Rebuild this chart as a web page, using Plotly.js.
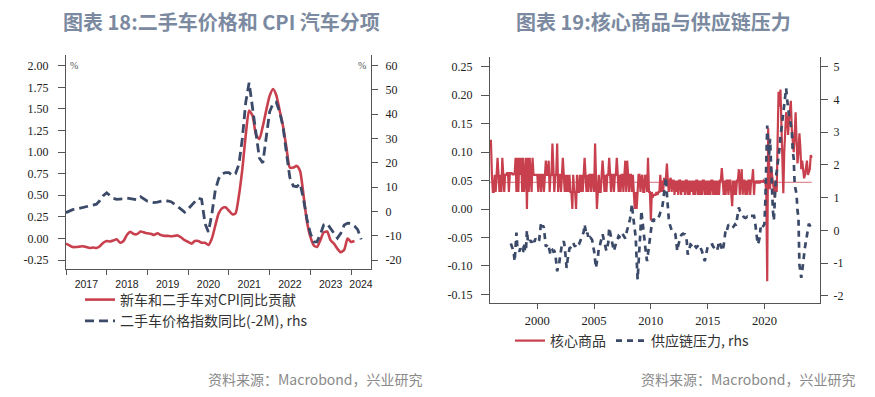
<!DOCTYPE html>
<html>
<head>
<meta charset="utf-8">
<script src="https://cdn.plot.ly/plotly-3.0.1.min.js"></script>
<style>html,body{margin:0;padding:0;background:#fff;}#chart{width:875px;height:397px;}</style>
</head>
<body>
<div id="chart"></div>
<script>
// ---------- Chart 18 data (monthly, from Jan 2017) ----------
const carStart = [2017, 1];
const carCpiContribution = [
 -0.06,-0.08,-0.10,-0.10,-0.095,-0.09,-0.10,-0.11,-0.105,-0.11,-0.09,-0.05,
 -0.03,-0.035,-0.025,-0.01,-0.05,-0.03,0.04,0.077,0.05,0.05,0.08,0.07,
 0.06,0.055,0.04,0.06,0.04,0.03,0.03,0.025,0.03,0.035,0.01,-0.02,
 -0.04,-0.06,-0.03,-0.03,-0.05,-0.05,-0.075,0.0,0.15,0.29,0.35,0.36,
 0.32,0.28,0.29,0.50,0.80,1.20,1.48,1.42,1.20,1.15,1.30,1.48,
 1.65,1.73,1.66,1.48,1.30,1.05,0.82,0.82,0.84,0.78,0.50,0.20,
 0.02,-0.08,-0.10,-0.02,0.07,0.08,-0.02,-0.06,-0.12,-0.16,-0.13,0.00,
 -0.04,-0.03
];
const usedCarYoY = [
 -0.5,0.3,0.7,0.9,1.2,1.5,1.8,2.2,2.5,3.0,4.5,6.5,
 7.7,6.5,5.4,5.0,5.0,5.2,5.5,5.3,4.8,4.8,6.0,5.0,
 4.2,4.0,3.6,3.8,4.2,4.5,4.3,4.0,3.0,2.0,0.8,-0.3,
 1.0,2.6,4.0,5.5,5.0,-5.0,-8.5,-1.0,8.8,13.5,15.5,16.0,
 16.0,14.8,15.5,19.5,30,45,53,42,32,22,20,30,
 41,44.5,45,41,35,24,14,10.5,10.2,11.5,5,-3,
 -9,-12.5,-12.5,-9.5,-5.5,-5.0,-7,-9,-11,-9,-5.6,-4.8,
 -5,-6,-7.5,-11.5
];
const chart18Years = [2017,2018,2019,2020,2021,2022,2023,2024];
const chart18LeftTicks = [-0.25,0,0.25,0.5,0.75,1,1.25,1.5,1.75,2];
const chart18LeftTickText = ['-0.25','0.00','0.25','0.50','0.75','1.00','1.25','1.50','1.75','2.00'];
const chart18RightTicks = [-20,-10,0,10,20,30,40,50,60];
const chart18RightTickText = ['-20','-10','0','10','20','30','40','50','60'];

// ---------- Chart 19 data ----------
const coreStart = [1995, 11];
const coreGoods = [
 0.12,0.12,
 0.06,0.03,0.03,0.06,0.03,0.06,0.09,0.06,0.03,0.06,0.03,0.09,
 0.06,0.03,0.06,0.06,0.063,0.063,0.03,0.063,0.063,0.063,0.06,0.063,
 0.06,0.09,0.03,0.09,0.03,0.09,0.06,0.09,0.03,0.09,0.03,0.06,
 0.09,0.0,0.09,0.03,0.09,0.06,0.03,0.09,0.06,0.06,0.06,0.06,
 0.06,0.03,0.06,0.06,0.03,0.06,0.06,0.03,0.06,0.085,0.06,0.06,
 0.085,0.03,0.06,0.06,0.115,0.06,0.03,0.06,0.06,0.115,0.03,0.06,
 0.06,0.03,0.06,0.09,0.06,0.03,0.06,0.03,0.06,0.03,0.06,0.03,
 0.03,0.0,0.06,0.03,0.03,0.0,0.06,0.03,0.03,0.06,0.03,0.06,
 0.03,0.06,0.09,0.06,0.03,0.06,0.03,0.06,0.06,0.03,0.06,0.06,
 0.03,0.115,0.06,0.0,0.03,0.06,0.03,0.03,0.06,0.085,0.06,0.03,
 0.06,0.03,0.06,0.06,0.09,0.06,0.03,0.06,0.06,0.03,0.06,0.06,
 0.09,0.06,0.03,0.06,0.03,0.06,0.06,0.03,0.06,0.085,0.03,0.085,
 0.06,0.03,0.06,0.06,0.03,0.06,0.03,0.0,0.03,0.0,0.03,0.06,
 0.06,0.03,0.055,0.06,0.03,0.03,0.06,0.055,0.03,0.09,0.03,0.03,
 -0.02,0.03,0.02,0.025,0.025,0.025,0.03,0.025,0.03,0.03,0.06,0.03,
 0.05,0.03,0.055,0.05,0.055,0.08,0.05,0.03,0.05,0.055,0.03,0.05,
 0.05,0.025,0.05,0.03,0.05,0.025,0.05,0.05,0.025,0.05,0.03,0.05,
 0.025,0.05,0.05,0.025,0.05,0.025,0.05,0.03,0.05,0.025,0.05,0.025,
 0.05,0.05,0.025,0.05,0.025,0.05,0.025,0.05,0.05,0.025,0.05,0.025,
 0.05,0.025,0.05,0.025,0.05,0.05,0.025,0.05,0.025,0.05,0.025,0.05,
 0.025,0.05,0.05,0.072,0.05,0.025,0.05,0.025,0.05,0.05,0.025,0.05,
 0.05,0.025,0.005,0.05,0.025,0.05,0.025,0.05,0.05,0.07,0.025,0.05,
 0.07,0.025,0.05,0.05,0.025,0.05,0.025,0.05,0.05,0.025,0.05,0.05,
 0.07,0.025,0.05,0.045,0.05,0.045,0.05,0.045,0.05,0.048,0.048,0.05,
 0.048,0.05,0.03,-0.127,0.142,0.08,0.035,0.075,0.06,0.048,0.03,0.02,
 0.05,0.03,0.12,0.206,0.18,0.21,0.15,0.10,0.028,0.10,0.15,0.17,
 0.16,0.13,0.156,0.17,0.19,0.14,0.12,0.10,0.13,0.17,0.12,0.08,
 0.10,0.133,0.11,0.07,0.085,0.07,0.054,0.06,0.07,0.085,0.06,0.068,
 0.07,0.095,0.09
];
const coreGoodsAverage = 0.047;
const gscpiStart = [1997, 9];
const supplyChainPressure = [
 -0.4,-0.5,-0.6,-0.65,
 -0.95,-0.5,-0.07,-0.55,-0.6,-0.65,-0.55,-0.6,-0.7,-0.65,-0.38,-0.65,
 -0.6,0.0,-0.3,-0.25,-0.35,-0.3,-0.38,-0.25,-0.3,-0.35,-0.25,-0.3,
 -0.3,-0.35,-0.3,-0.1,0.24,0.1,0.15,0.08,-0.2,-0.5,-0.45,-0.55,
 -0.5,-0.6,-0.74,-0.63,-0.6,-0.65,-0.63,-0.7,-0.9,-1.25,-1.1,-1.05,
 -0.8,-0.6,-0.45,-0.38,-0.33,-0.5,-0.8,-1.15,-0.9,-0.63,-0.55,-0.53,
 -0.5,-0.4,-0.38,-0.45,-0.5,-0.4,-0.42,-0.45,-0.43,-0.35,-0.25,-0.2,
 -0.12,-0.05,0.18,0.0,-0.15,-0.07,-0.25,-0.28,-0.22,-0.25,-0.3,-0.5,
 -0.63,-0.9,-1.15,-0.95,-0.84,-0.53,-0.5,-0.35,-0.2,-0.12,-0.25,-0.38,
 -0.5,-0.63,-0.5,-0.38,0.08,-0.1,-0.28,-0.4,-0.5,-0.63,-0.5,-0.38,
 -0.3,-0.25,-0.17,-0.2,-0.15,-0.07,-0.1,-0.15,-0.22,-0.25,-0.1,0.0,
 0.08,0.2,0.34,0.55,0.8,0.5,0.28,0.0,-0.22,-0.9,-1.5,-1.0,
 -0.63,0.0,0.6,0.29,0.0,-0.3,-0.58,-0.75,-0.94,-0.7,-0.53,-0.2,
 0.0,0.2,0.29,0.35,0.3,0.29,0.3,0.35,0.39,0.45,0.55,0.65,
 0.7,0.9,1.2,1.45,1.62,1.1,0.6,0.35,0.18,0.05,0.0,-0.07,
 -0.1,-0.1,-0.12,-0.4,-0.63,-0.45,-0.33,-0.25,-0.15,-0.12,-0.1,-0.12,
 -0.12,-0.2,-0.33,-0.74,-0.6,-0.5,-0.43,-0.45,-0.4,-0.38,-0.45,-0.5,
 -0.53,-0.5,-0.45,-0.43,-0.5,-0.55,-0.63,-0.75,-0.84,-0.94,-0.8,-0.6,
 -0.5,-0.45,-0.43,-0.45,-0.43,-0.43,-0.5,-0.53,-0.55,-0.6,-0.63,-0.5,
 -0.33,-0.4,-0.5,-0.6,-0.63,-0.45,-0.2,0.0,-0.05,0.1,0.18,0.15,
 0.12,0.1,0.08,0.1,0.15,0.18,0.15,0.3,0.5,0.7,0.6,0.55,
 0.49,0.45,0.42,0.39,0.38,0.4,0.42,0.4,0.38,0.44,0.45,0.44,
 0.44,0.44,0.3,0.0,-0.3,-0.43,-0.35,-0.22,0.08,0.0,0.1,0.15,
 0.18,0.9,1.9,3.2,2.6,2.3,2.8,2.0,1.1,0.6,0.3,1.0,
 1.6,1.8,2.0,2.3,2.5,2.85,3.1,3.4,3.6,3.8,4.1,4.34,
 4.0,3.6,3.55,3.4,3.2,3.05,2.4,2.2,1.4,1.2,1.1,0.6,
 0.4,-1.05,-1.2,-1.45,-1.24,-0.95,-0.83,-0.5,-0.33,-0.1,0.08,0.2,
 0.15,0.1
];
const chart19LeftTicks = [-0.15,-0.1,-0.05,0,0.05,0.1,0.15,0.2,0.25];
const chart19LeftTickText = ['-0.15','-0.10','-0.05','0.00','0.05','0.10','0.15','0.20','0.25'];
const chart19RightTicks = [-2,-1,0,1,2,3,4,5];
const chart19RightTickText = ['-2','-1','0','1','2','3','4','5'];

// ---------- helpers ----------
function pad(n){return (n<10?'0':'')+n;}
function monthDates(start, n){
  const out=[]; let y=start[0], m=start[1];
  for(let i=0;i<n;i++){ out.push(y+'-'+pad(m)+'-01'); m++; if(m>12){m=1;y++;} }
  return out;
}
const W=875, H=397;
const px = v => v/W, py = v => 1 - v/H;

const range18 = ['2017-01-01','2024-06-28'];
const r0 = new Date(range18[0]).getTime(), r1 = new Date(range18[1]).getTime();
const chart18TickVals = chart18Years.map(y => {
  const a = Math.max(new Date(y+'-01-01').getTime(), r0);
  const b = Math.min(new Date((y+1)+'-01-01').getTime(), r1);
  return new Date((a+b)/2).toISOString().slice(0,10);
});
const chart18TickText = chart18Years.map(String);

const carRedDates = monthDates(carStart, carCpiContribution.length);
const carDashDates = monthDates(carStart, usedCarYoY.length);
const coreDates = monthDates(coreStart, coreGoods.length);
const gscpiDates = monthDates(gscpiStart, supplyChainPressure.length);

const RED = '#c8404e', NAVY = '#3b4a68', AX = '#555';
const tickFontSerif = {family:'Liberation Serif', size:12, color:'#222'};

const traces = [
  {x:carRedDates, y:carCpiContribution, type:'scatter', mode:'lines', name:'新车和二手车对CPI同比贡献',
   line:{color:RED, width:2.6, shape:'spline', smoothing:0.6}, xaxis:'x', yaxis:'y', legend:'legend'},
  {x:carDashDates, y:usedCarYoY, type:'scatter', mode:'lines', name:'二手车价格指数同比(-2M), rhs',
   line:{color:NAVY, width:2.8, dash:'9px,5px'}, xaxis:'x', yaxis:'y2', legend:'legend'},
  {x:[coreDates[0], coreDates[coreDates.length-1]], y:[coreGoodsAverage, coreGoodsAverage], type:'scatter', mode:'lines',
   line:{color:'#d9707a', width:1}, xaxis:'x2', yaxis:'y3', showlegend:false, hoverinfo:'skip'},
  {x:coreDates, y:coreGoods, type:'scatter', mode:'lines', name:'核心商品',
   line:{color:RED, width:2.2}, xaxis:'x2', yaxis:'y3', legend:'legend2'},
  {x:gscpiDates, y:supplyChainPressure, type:'scatter', mode:'lines', name:'供应链压力, rhs',
   line:{color:NAVY, width:2.7, dash:'6px,5px'}, xaxis:'x2', yaxis:'y4', legend:'legend2'}
];

const legendFont = {family:'Noto Sans CJK SC', size:14, color:'#333'};
const layout = {
  width:W, height:H, margin:{l:0,r:0,t:0,b:0}, autosize:false,
  paper_bgcolor:'#fff', plot_bgcolor:'rgba(0,0,0,0)',
  font:{family:'Liberation Serif', size:12, color:'#222'},
  xaxis:{type:'date', domain:[px(66),px(371)], anchor:'y', range:range18,
    showline:true, linecolor:AX, linewidth:1, showgrid:false, zeroline:false,
    tickmode:'array', tickvals:chart18TickVals, ticktext:chart18TickText, ticks:'',
    tickfont:{family:'Liberation Sans', size:10.5, color:'#222'}, ticklabelstandoff:5,
    minor:{ticks:'outside', ticklen:5, tickcolor:AX, tickmode:'linear', tick0:'2017-01-01', dtick:'M12', showgrid:false}},
  yaxis:{domain:[py(269),py(55)], anchor:'x', range:[-0.354,2.124],
    showline:true, linecolor:AX, linewidth:1, showgrid:false, zeroline:false,
    tickmode:'array', tickvals:chart18LeftTicks, ticktext:chart18LeftTickText,
    ticks:'outside', ticklen:7, tickcolor:AX, tickfont:tickFontSerif, ticklabelstandoff:7},
  yaxis2:{overlaying:'y', anchor:'x', side:'right', range:[-23.7,64.4],
    showline:true, linecolor:AX, linewidth:1, showgrid:false, zeroline:false,
    tickmode:'array', tickvals:chart18RightTicks, ticktext:chart18RightTickText,
    ticks:'outside', ticklen:6, tickcolor:AX, tickfont:tickFontSerif, ticklabelstandoff:5},
  xaxis2:{type:'date', domain:[px(490),px(820)], anchor:'y3', range:['1995-11-01','2024-11-24'],
    showline:true, linecolor:AX, linewidth:1, showgrid:false, zeroline:false,
    tickmode:'linear', tick0:'2000-01-01', dtick:'M60', tickformat:'%Y',
    ticks:'outside', ticklen:5, tickcolor:AX, ticklabelstandoff:1,
    tickfont:{family:'Liberation Serif', size:12.5, color:'#222'}},
  yaxis3:{domain:[py(303),py(56.7)], anchor:'x2', range:[-0.165,0.2676],
    showline:true, linecolor:AX, linewidth:1, showgrid:false, zeroline:false,
    tickmode:'array', tickvals:chart19LeftTicks, ticktext:chart19LeftTickText,
    ticks:'outside', ticklen:8, tickcolor:AX, tickfont:tickFontSerif, ticklabelstandoff:6},
  yaxis4:{overlaying:'y3', anchor:'x2', side:'right', range:[-2.22,5.306],
    showline:true, linecolor:AX, linewidth:1, showgrid:false, zeroline:false,
    tickmode:'array', tickvals:chart19RightTicks, ticktext:chart19RightTickText,
    ticks:'outside', ticklen:7, tickcolor:AX, tickfont:tickFontSerif, ticklabelstandoff:3},
  showlegend:true,
  legend:{x:px(80), y:py(284), xanchor:'left', yanchor:'top', orientation:'v',
    font:legendFont, bgcolor:'rgba(0,0,0,0)', tracegroupgap:0, traceorder:'normal'},
  legend2:{x:px(510), y:py(325), xanchor:'left', yanchor:'top', orientation:'h',
    font:legendFont, bgcolor:'rgba(0,0,0,0)'},
  annotations:[
    {text:'<b>图表 18:二手车价格和 CPI 汽车分项</b>', xref:'paper', yref:'paper', x:px(221), y:py(22),
     xanchor:'center', yanchor:'middle', showarrow:false, font:{family:'Noto Sans CJK SC', size:20, color:'#7b8aa0'}},
    {text:'<b>图表 19:核心商品与供应链压力</b>', xref:'paper', yref:'paper', x:px(653), y:py(22),
     xanchor:'center', yanchor:'middle', showarrow:false, font:{family:'Noto Sans CJK SC', size:20, color:'#7b8aa0'}},
    {text:'资料来源：Macrobond，兴业研究', xref:'paper', yref:'paper', x:px(425), y:py(379),
     xanchor:'right', yanchor:'middle', showarrow:false, font:{family:'Noto Sans CJK SC', size:14, color:'#8a8a8a'}},
    {text:'资料来源：Macrobond，兴业研究', xref:'paper', yref:'paper', x:px(858), y:py(379),
     xanchor:'right', yanchor:'middle', showarrow:false, font:{family:'Noto Sans CJK SC', size:14, color:'#8a8a8a'}},
    {text:'%', xref:'paper', yref:'paper', x:px(74), y:py(65), xanchor:'center', yanchor:'middle', showarrow:false,
     font:{family:'Liberation Serif', size:10, color:'#555'}},
    {text:'%', xref:'paper', yref:'paper', x:px(362), y:py(65), xanchor:'center', yanchor:'middle', showarrow:false,
     font:{family:'Liberation Serif', size:10, color:'#555'}}
  ]
};

Plotly.newPlot('chart', traces, layout, {staticPlot:true, displayModeBar:false});
</script>
</body>
</html>
